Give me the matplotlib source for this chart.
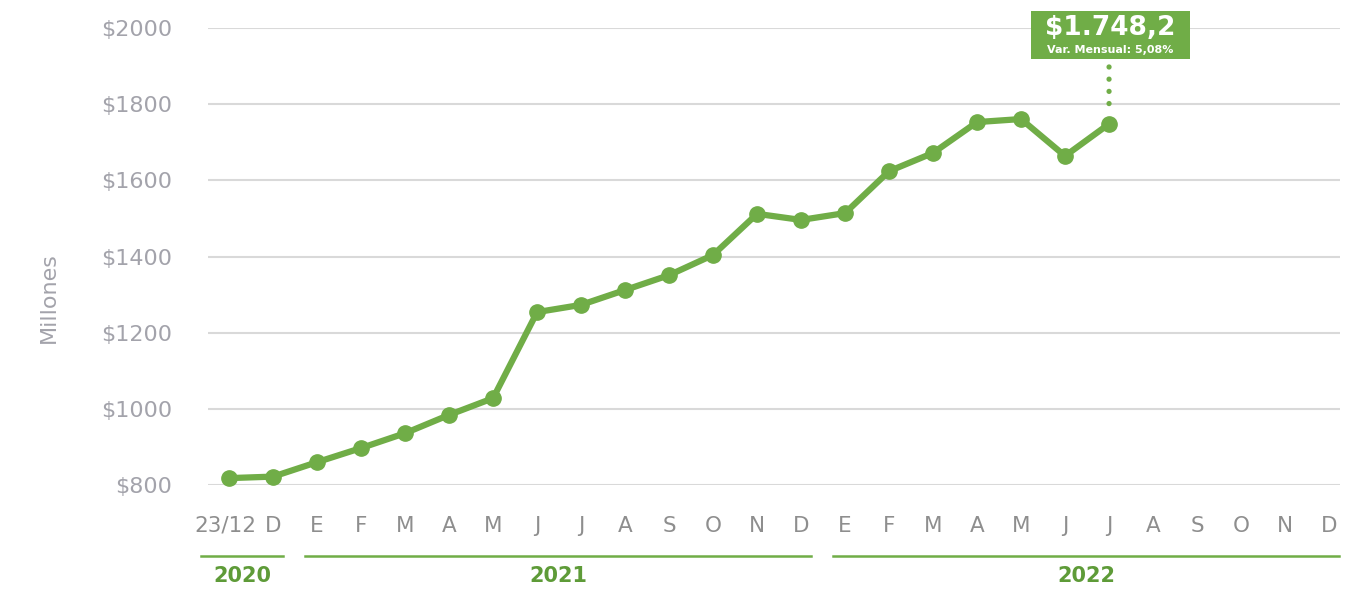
#Line chart of monthly values (millions) with year groups under the month axis
import matplotlib
matplotlib.use("Agg")
import matplotlib.pyplot as plt
import matplotlib.transforms as mtransforms
from matplotlib.offsetbox import TextArea, VPacker, HPacker, DrawingArea, AnnotationBbox

#Data
months = ["23/12", "D",
          "E", "F", "M", "A", "M", "J", "J", "A", "S", "O", "N", "D",
          "E", "F", "M", "A", "M", "J", "J", "A", "S", "O", "N", "D"]
values = [818, 822, 860, 897, 936, 984, 1028, 1254, 1273, 1312, 1351, 1404,
          1512, 1496, 1514, 1624, 1672, 1753, 1761, 1664, 1748.2]
years = ["2020", "2021", "2022"]
year_first = [0, 2, 14]
year_last = [1, 13, 25]
last_label = "$1.748,2"
last_var = "Var. Mensual: 5,08%"
yticks = [800, 1000, 1200, 1400, 1600, 1800, 2000]

green = "#70AD47"
dark_green = "#5E9B38"
grey = "#a3a3ab"

plt.rcParams['font.family'] = ['DejaVu Sans']

fig = plt.figure(figsize=(13.65, 5.9), dpi=100)
ax = fig.add_axes([0.1524, 0.178, 0.8293, 0.7745])

x = list(range(len(values)))
ax.plot(x, values, color=green, linewidth=4.5, marker='o', markersize=11,
        solid_joinstyle='round', clip_on=False, zorder=3)

#Axes formatting
ax.set_xlim(-0.48, 25.25)
ax.set_ylim(800, 2000)
ax.set_yticks(yticks)
ax.set_yticklabels([f"${v}" for v in yticks])
ax.set_xticks(range(len(months)))
ax.set_xticklabels(months)
ax.tick_params(axis='y', length=0, pad=26, labelsize=16, labelcolor=grey)
ax.tick_params(axis='x', length=0, pad=22, labelsize=15.5, labelcolor="#8e8e8e")
ax.grid(axis='y', color="#d9d9d9", linewidth=1.5)
ax.set_axisbelow(True)
for s in ax.spines.values():
    s.set_visible(False)
ax.set_ylabel("Millones", fontsize=16, color=grey)
ax.yaxis.set_label_coords(-0.132, 0.41)

#nudge the wide first label left so it does not touch "D"
first = ax.get_xticklabels()[0]
first.set_transform(first.get_transform() +
                    mtransforms.ScaledTranslation(-3 / 72, 0, fig.dpi_scale_trans))

#Year groups below the month labels
trans = ax.get_xaxis_transform()
for name, a, b in zip(years, year_first, year_last):
    left = a - (0.64 if a == 0 else 0.27)
    ax.plot([left, b + 0.22], [-0.155, -0.155], color=green, linewidth=1.8,
            transform=trans, clip_on=False)
    ax.text((left + b + 0.22) / 2, -0.2, name, transform=trans, ha='center',
            va='center', fontsize=15, fontweight='bold', color=dark_green)

#Callout for the last value
last = len(values) - 1
ax.annotate("", xy=(last, values[-1]), xytext=(0, 41), textcoords='offset points',
            arrowprops=dict(arrowstyle='-', color=green, linewidth=3.8,
                            linestyle=(0, (0.01, 2.3)), capstyle='round',
                            shrinkA=0, shrinkB=7))
big = TextArea(last_label, textprops=dict(color='white', fontsize=19, fontweight='bold'))
small = TextArea(last_var, textprops=dict(color='white', fontsize=8, fontweight='bold'))
inner = VPacker(children=[big, small], align='center', pad=0, sep=3)
box = HPacker(children=[DrawingArea(7, 1), inner, DrawingArea(7, 1)], align='center', pad=0, sep=0)
ab = AnnotationBbox(box, (last, values[-1]), xybox=(1, 64), boxcoords='offset points',
                    frameon=True, pad=0.55,
                    bboxprops=dict(facecolor=green, edgecolor='none', boxstyle='square'))
ax.add_artist(ab)

plt.savefig("out.png", dpi=100)
